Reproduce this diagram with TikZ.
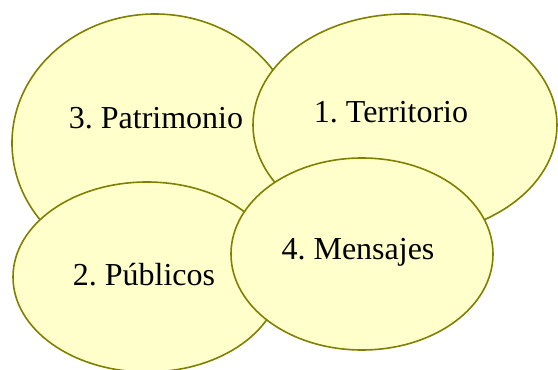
\documentclass[tikz,border=0pt]{standalone}
\usepackage{fontspec}
\setmainfont{Liberation Serif}
\usetikzlibrary{shapes.geometric}
\frenchspacing

\definecolor{olivelinea}{RGB}{128,128,0}
\definecolor{amarillo}{RGB}{255,255,204}

\begin{document}
\begin{tikzpicture}[x=1pt,y=-1pt,
	zona/.style={draw=olivelinea,fill=amarillo,line width=1.6pt,shape=ellipse,inner sep=0pt},
	etiqueta/.style={font=\fontsize{32}{38}\selectfont,text=black}]
	\useasboundingbox (0,0) rectangle (558,370);
	\draw (155,143) node(Pat) [zona,minimum width=286pt,minimum height=258pt] {};
	\node (tPat) [etiqueta] at (156,118) {3. Patrimonio};
	\draw (405,125) node(Ter) [zona,minimum width=304pt,minimum height=222pt] {};
	\node (tTer) [etiqueta] at (391,112) {1. Territorio};
	\draw (147,277) node(Pub) [zona,minimum width=268pt,minimum height=190pt] {};
	\node (tPub) [etiqueta] at (144,275) {2. Públicos};
	\draw (362,254) node(Men) [zona,minimum width=262pt,minimum height=192pt] {};
	\node (tMen) [etiqueta] at (358,252) {4. Mensajes};
\end{tikzpicture}
\end{document}
